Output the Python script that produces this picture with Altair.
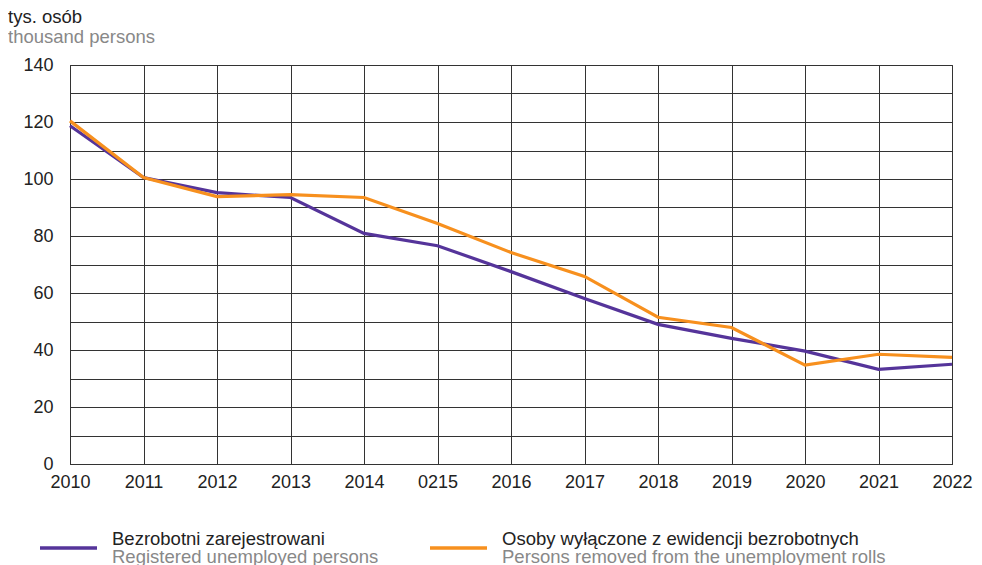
import altair as alt
import pandas as pd

years = ["2010", "2011", "2012", "2013", "2014", "0215", "2016",
         "2017", "2018", "2019", "2020", "2021", "2022"]
registered = [118.7, 100.5, 95.2, 93.5, 80.9, 76.6, 67.5, 58.1, 49.0, 44.1, 39.6, 33.2, 35.0]
removed = [120.4, 100.5, 93.8, 94.5, 93.5, 84.4, 74.2, 65.8, 51.5, 47.9, 34.7, 38.5, 37.4]
series_pl = ["Bezrobotni zarejestrowani", "Osoby wyłączone z ewidencji bezrobotnych"]
series_en = ["Registered unemployed persons", "Persons removed from the unemployment rolls"]
y_ticks = list(range(0, 141, 10))

PURPLE = "#55349a"
ORANGE = "#f7901e"
GRID = "#333333"
FONT = "Liberation Sans"

rows = []
for y, a, b in zip(years, registered, removed):
    rows.append({"year": y, "series": series_pl[0], "value": a})
    rows.append({"year": y, "series": series_pl[1], "value": b})
df = pd.DataFrame(rows)

lines = alt.Chart(df).mark_line(strokeWidth=3.2).encode(
    x=alt.X("year:O", sort=years, title=None,
            scale=alt.Scale(type="point", padding=0),
            axis=alt.Axis(labelAngle=0, tickSize=0, labelPadding=9, grid=True,
                          labelFontSize=18, labelFont=FONT, labelColor="#222")),
    y=alt.Y("value:Q", title=None,
            scale=alt.Scale(domain=[0, 140], nice=False),
            axis=alt.Axis(values=y_ticks, tickSize=0, labelPadding=17, grid=True,
                          labelExpr="datum.value % 20 == 0 ? datum.label : ''",
                          labelFontSize=18, labelFont=FONT, labelColor="#222")),
    color=alt.Color("series:N", scale=alt.Scale(domain=series_pl, range=[PURPLE, ORANGE]),
                    legend=None),
    order=alt.Order("series:N"),
)

one = alt.Data(values=[{"k": 1}])

def txt(s, x, y, color):
    return alt.Chart(one).mark_text(text=s, align="left", baseline="alphabetic",
                                    fontSize=18.5, font=FONT, color=color).encode(
        x=alt.value(x), y=alt.value(y))

def rule(x1, x2, y, color):
    return alt.Chart(one).mark_rule(strokeWidth=3.5, color=color).encode(
        x=alt.value(x1), x2=alt.value(x2), y=alt.value(y))

deco = [
    txt("tys. osób", -62, -42, "#222"),
    txt("thousand persons", -62, -22, "#888"),
    rule(-30, 27, 483, PURPLE),
    txt(series_pl[0], 42, 480, "#222"),
    txt(series_en[0], 42, 498, "#888"),
    rule(360, 417, 483, ORANGE),
    txt(series_pl[1], 432, 480, "#222"),
    txt(series_en[1], 432, 498, "#888"),
]

chart = alt.layer(lines, *deco).properties(
    width=882, height=399,
    autosize=alt.AutoSizeParams(type="none"),
    padding={"left": 62, "top": 57, "right": 22, "bottom": 101},
    background="white",
).configure_axis(
    domainColor=GRID, gridColor=GRID, gridOpacity=1, gridWidth=1, domainWidth=1,
).configure_view(stroke=GRID, strokeWidth=1)

chart.save("out.html", embed_options={"renderer": "svg", "actions": False})
